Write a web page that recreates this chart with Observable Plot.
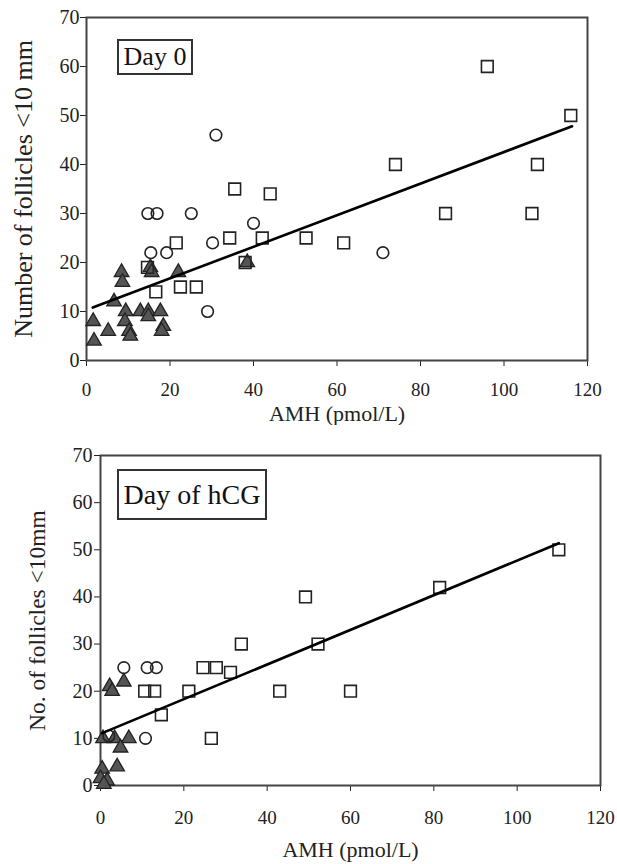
<!DOCTYPE html>
<html>
<head>
<meta charset="utf-8">
<script src="https://cdn.jsdelivr.net/npm/d3@7"></script>
<script src="https://cdn.jsdelivr.net/npm/@observablehq/plot@0.6"></script>
<style>
  html, body { margin: 0; padding: 0; background: white; }
  #wrap { position: relative; width: 617px; height: 864px; }
  .panel { position: relative; }
  svg, svg text { font-family: "Liberation Serif", Tinos, "Times New Roman", Times, "Nimbus Roman", "DejaVu Serif", serif !important; }
  svg g[aria-label="y-axis tick label"] text { font-size: 20px; }
  .tag { position: absolute; box-sizing: border-box; border: 2px solid #333; background: white;
         font-family: "Liberation Serif", Tinos, "Times New Roman", Times, serif; color: #111;
         display: flex; align-items: center; justify-content: center; white-space: nowrap; }
</style>
</head>
<body>
<div id="wrap"></div>
<script>
// ---- shared axes ----
const xTicks = [0, 20, 40, 60, 80, 100, 120];
const yTicks = [0, 10, 20, 30, 40, 50, 60, 70];
const xTitle = "AMH (pmol/L)";

// ---- Panel 1: Day 0 ----
const day0Label = "Day 0";
const day0YTitle = "Number of follicles <10 mm";
const day0SquareX = [96, 116, 74, 108, 86, 106.7, 52.6, 61.6, 35.5, 44, 21.5, 34.3, 42.1, 38, 14.6, 16.6, 22.5, 26.3];
const day0SquareY = [60, 50, 40, 40, 30, 30, 25, 24, 35, 34, 24, 25, 25, 20, 19, 14, 15, 15];
const day0CircleX = [31, 14.7, 16.9, 25.1, 40, 30.2, 15.4, 19.2, 29, 71];
const day0CircleY = [46, 30, 30, 30, 28, 24, 22, 22, 10, 22];
const day0TriX = [1.6, 1.8, 5.2, 6.6, 8.4, 8.6, 9.4, 9.2, 10.2, 10.5, 12.9, 14.8, 14.8, 17.7, 18.4, 18, 15.3, 15.6, 22, 38.5];
const day0TriY = [8, 4, 6, 12, 18, 16, 10, 8, 6, 5, 10, 10, 9, 10, 7, 6, 19, 18, 18, 20];
const day0LineX = [1.5, 116.3];
const day0LineY = [10.8, 47.8];

// ---- Panel 2: Day of hCG ----
const hcgLabel = "Day of hCG";
const hcgYTitle = "No. of follicles <10mm";
const hcgSquareX = [10.6, 13, 21.2, 43, 60, 14.6, 26.6, 24.6, 27.8, 31.2, 33.8, 49.2, 52.2, 81.4, 110];
const hcgSquareY = [20, 20, 20, 20, 20, 15, 10, 25, 25, 24, 30, 40, 30, 42, 50];
const hcgCircleX = [5.6, 11.2, 13.4, 2.0, 10.8];
const hcgCircleY = [25, 25, 25, 10.5, 10];
const hcgTriX = [0.4, 0, 1.6, 0.8, 4, 0.6, 3.4, 6.8, 4.8, 2.2, 2.8, 5.6];
const hcgTriY = [3.5, 1.5, 1, 0.3, 4, 10, 10, 10, 8, 21, 20, 22];
const hcgLineX = [0.4, 110];
const hcgLineY = [11.1, 51.4];

const zip = (xs, ys) => xs.map((x, i) => ({x, y: ys[i]}));
const FONT = "\"Liberation Serif\", Tinos, \"Times New Roman\", Times, serif";

function panel(o) {
  const sq = zip(o.sqX, o.sqY), ci = zip(o.ciX, o.ciY), tr = zip(o.trX, o.trY), ln = zip(o.lnX, o.lnY);
  return Plot.plot({
    width: 617, height: o.height,
    marginTop: o.mt, marginBottom: o.mb, marginLeft: o.ml, marginRight: o.mr,
    style: {fontFamily: FONT, fontSize: "19px", color: "#222", background: "white", overflow: "visible"},
    x: {domain: [0, 120], ticks: xTicks, tickSize: 6, tickPadding: o.padX, label: null},
    y: {domain: [0, 70], ticks: yTicks, tickSize: 6, tickPadding: o.padY, label: null},
    marks: [
      Plot.frame({stroke: "#444", strokeWidth: 2}),
      Plot.dot(tr, {x: "x", y: "y", symbol: "triangle", r: 5.4, stroke: "#222", strokeWidth: 1.3, fill: "#555"}),
      Plot.dot(sq, {x: "x", y: "y", symbol: "square", r: 6.6, stroke: "#222", strokeWidth: 1.6, fill: "none"}),
      Plot.dot(ci, {x: "x", y: "y", symbol: "circle", r: 5.8, stroke: "#222", strokeWidth: 1.6, fill: "none"}),
      Plot.line(ln, {x: "x", y: "y", stroke: "#000", strokeWidth: 2.6}),
      Plot.text([o.yTitle], {text: d => d, frameAnchor: "left", textAnchor: "middle", lineAnchor: "middle", rotate: -90, dx: -63, fontSize: o.yTitleSize, fill: "#222"}),
      Plot.text([xTitle], {text: d => d, frameAnchor: "bottom", textAnchor: "middle", dy: o.xTitleDy, lineAnchor: "middle", fontSize: 22, fill: "#222"})
    ]
  });
}

const wrap = document.getElementById("wrap");

function addPanel(svg, tag) {
  const div = document.createElement("div");
  div.className = "panel";
  div.appendChild(svg);
  const t = document.createElement("div");
  t.className = "tag";
  t.textContent = tag.text;
  Object.assign(t.style, {left: tag.left + "px", top: tag.top + "px", width: tag.w + "px", height: tag.h + "px", fontSize: tag.size + "px"});
  div.appendChild(t);
  wrap.appendChild(div);
}

addPanel(panel({
  sqX: day0SquareX, sqY: day0SquareY, ciX: day0CircleX, ciY: day0CircleY, trX: day0TriX, trY: day0TriY,
  lnX: day0LineX, lnY: day0LineY, yTitle: day0YTitle, yTitleSize: 26,
  height: 425, mt: 17, mb: 65, ml: 86, mr: 30, padX: 16, padY: 1, xTitleDy: 53
}), {text: day0Label, left: 117, top: 39, w: 76, h: 36, size: 26});

addPanel(panel({
  sqX: hcgSquareX, sqY: hcgSquareY, ciX: hcgCircleX, ciY: hcgCircleY, trX: hcgTriX, trY: hcgTriY,
  lnX: hcgLineX, lnY: hcgLineY, yTitle: hcgYTitle, yTitleSize: 23.5,
  height: 439, mt: 30, mb: 79, ml: 100, mr: 17, padX: 19, padY: 2, xTitleDy: 64
}), {text: hcgLabel, left: 117, top: 44, w: 150, h: 51, size: 28});
</script>
</body>
</html>
